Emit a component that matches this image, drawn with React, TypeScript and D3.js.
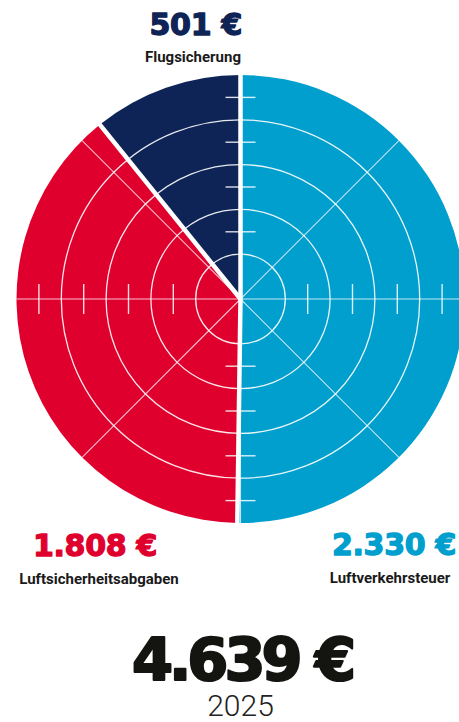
import React from "react";
import * as d3 from "d3";

const categories = ["Luftverkehrsteuer", "Luftsicherheitsabgaben", "Flugsicherung"];
const values = [2330, 1808, 501];
const valueLabels = ["2.330 €", "1.808 €", "501 €"];
const colors = ["#009fce", "#df002e", "#0e2456"];
const totalLabel = "4.639 €";
const yearLabel = "2025";
const ringCount = 5;

const W = 459;
const H = 722;
const cx = 240.5;
const cy = 299;
const R = 224;

const numFont = "'DejaVu Sans', Verdana, sans-serif";

export default function App() {
  const pie = d3.pie<number>().sort(null).startAngle(0).endAngle(2 * Math.PI);
  const arcs = pie(values);
  const arcGen = d3.arc<d3.PieArcDatum<number>>().innerRadius(0).outerRadius(R);
  const rScale = d3.scaleLinear().domain([0, ringCount]).range([0, R]);
  const rings = d3.range(1, ringCount);
  const tickPos = d3.range(1.5, ringCount, 1);
  const spokes = d3.range(0, 360, 45);
  const pt = (angDeg: number, r: number) => {
    const a = (angDeg * Math.PI) / 180;
    return [Math.sin(a) * r, -Math.cos(a) * r];
  };
  const boundaries = arcs.map((a) => a.startAngle);

  const labelPos = [
    { x: 394, y: 555, lx: 390, ly: 583, anchor: "middle" },
    { x: 95, y: 556, lx: 99, ly: 584, anchor: "middle" },
    { x: 242, y: 35, lx: 241, ly: 62, anchor: "end" },
  ];

  return (
    <svg width={W} height={H} style={{ position: "absolute", left: 0, top: 0, display: "block" }}>
      <rect width={W} height={H} fill="#fff" />
      <g transform={`translate(${cx},${cy})`}>
        {arcs.map((a, i) => (
          <path key={i} d={arcGen(a) || ""} fill={colors[i]} />
        ))}
        {rings.map((k) => (
          <circle key={k} r={rScale(k)} fill="none" stroke="#fff" strokeOpacity={0.9} strokeWidth={1.3} />
        ))}
        {spokes.map((s) => {
          const [x, y] = pt(s, R);
          return <line key={s} x1={0} y1={0} x2={x} y2={y} stroke="#fff" strokeOpacity={0.75} strokeWidth={1.1} />;
        })}
        {tickPos.map((t) => {
          const r = rScale(t);
          return (
            <g key={t} stroke="#fff" strokeOpacity={0.85} strokeWidth={1.4}>
              <line x1={-15} x2={15} y1={-r} y2={-r} />
              <line x1={-15} x2={15} y1={r} y2={r} />
              <line x1={-r} x2={-r} y1={-15} y2={15} />
              <line x1={r} x2={r} y1={-15} y2={15} />
            </g>
          );
        })}
        {boundaries.map((b, i) => {
          const x = Math.sin(b) * (R + 2);
          const y = -Math.cos(b) * (R + 2);
          return <line key={i} x1={0} y1={0} x2={x} y2={y} stroke="#fff" strokeWidth={4.5} />;
        })}
      </g>
      {labelPos.map((p, i) => (
        <g key={i}>
          <text
            x={p.x}
            y={p.y}
            textAnchor={p.anchor as any}
            fill={colors[i]}
            stroke={colors[i]}
            strokeWidth={1.3}
            strokeLinejoin="round"
            style={{ fontFamily: numFont, fontWeight: 700, fontSize: 30, letterSpacing: -0.3 }}
          >
            {valueLabels[i]}
          </text>
          <text
            x={p.lx}
            y={p.ly}
            textAnchor={p.anchor as any}
            fill="#1a1a1a"
            style={{ fontFamily: "Roboto, 'Noto Sans', sans-serif", fontWeight: 700, fontSize: 15 }}
          >
            {categories[i]}
          </text>
        </g>
      ))}
      <text
        x={242}
        y={680}
        textAnchor="middle"
        fill="#141410"
        stroke="#141410"
        strokeWidth={2.2}
        strokeLinejoin="round"
        style={{ fontFamily: numFont, fontWeight: 700, fontSize: 59, letterSpacing: -4 }}
      >
        {totalLabel}
      </text>
      <text
        x={240.5}
        y={716}
        textAnchor="middle"
        fill="#222"
        style={{ fontFamily: "Roboto, Inter, sans-serif", fontWeight: 300, fontSize: 30 }}
      >
        {yearLabel}
      </text>
    </svg>
  );
}
